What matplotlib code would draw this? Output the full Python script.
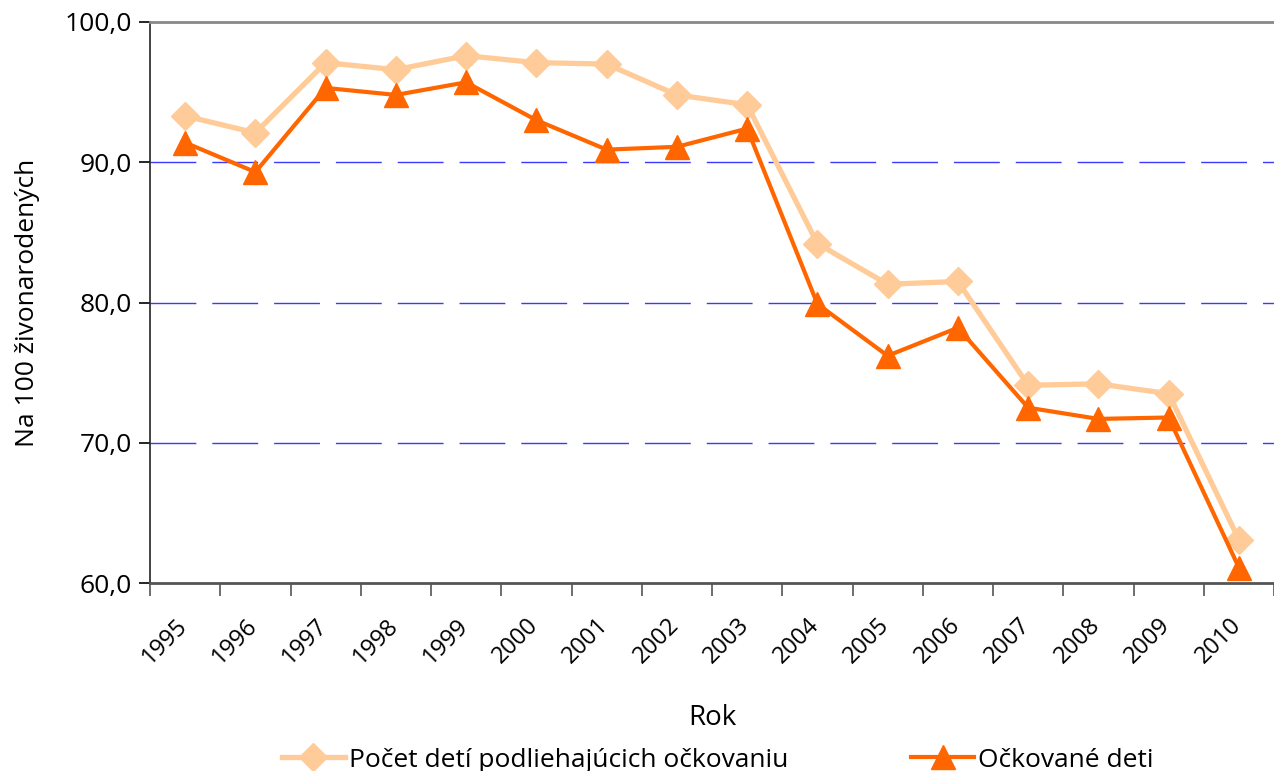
import matplotlib.pyplot as plt
import matplotlib.transforms as mtransforms
from matplotlib.ticker import FixedLocator, FuncFormatter

plt.rcParams['font.family'] = ['Open Sans', 'DejaVu Sans']

# data
roky = ['1995', '1996', '1997', '1998', '1999', '2000', '2001', '2002',
        '2003', '2004', '2005', '2006', '2007', '2008', '2009', '2010']
podliehajuci = [93.3, 92.1, 97.1, 96.6, 97.6, 97.1, 97.0, 94.8,
                94.1, 84.2, 81.3, 81.5, 74.1, 74.2, 73.5, 63.1]
ockovani = [91.4, 89.3, 95.3, 94.8, 95.7, 93.0, 90.9, 91.1,
            92.4, 79.9, 76.2, 78.2, 72.5, 71.7, 71.8, 61.1]

fig = plt.figure(figsize=(12.74, 7.71), dpi=100)
ax = fig.add_axes([150 / 1274, 1 - 583 / 771, 1 - 150 / 1274, (583 - 22) / 771])

x = list(range(len(roky)))
ax.plot(x, podliehajuci, color='#FFCC99', lw=3.8, marker='D', ms=14,
        label='Počet detí podliehajúcich očkovaniu', zorder=3)
ax.plot(x, ockovani, color='#FF6600', lw=3, marker='^', ms=17,
        label='Očkované deti', zorder=4)

# grid lines
for g in [70, 80, 90]:
    ax.axhline(g, color='#3a3aFF', lw=1, dashes=(33, 11.5), zorder=1)

ax.set_xlim(-0.5, len(roky) - 0.5)
ax.set_ylim(60, 100)
ax.set_yticks([60, 70, 80, 90, 100])
ax.yaxis.set_major_formatter(FuncFormatter(lambda v, p: f'{v:.1f}'.replace('.', ',')))
ax.tick_params(axis='y', length=8, width=1.2, labelsize=19, pad=5)

ax.set_xticks(x)
ax.set_xticklabels(roky, rotation=45, ha='right', rotation_mode='anchor', fontsize=17)
ax.tick_params(axis='x', which='major', length=0, pad=22)
posun = mtransforms.ScaledTranslation(-10 / 100, 0, fig.dpi_scale_trans)
for lbl in ax.get_xticklabels():
    lbl.set_transform(lbl.get_transform() + posun)
ax.xaxis.set_minor_locator(FixedLocator([i - 0.5 for i in range(len(roky) + 1)]))
ax.tick_params(axis='x', which='minor', length=9, width=1.2, color='#555555')

ax.spines['top'].set_color('#888888')
ax.spines['top'].set_linewidth(2)
ax.spines['bottom'].set_color('#555555')
ax.spines['bottom'].set_linewidth(2)
ax.spines['left'].set_color('#222222')
ax.spines['left'].set_linewidth(1.2)
ax.spines['right'].set_visible(False)

ax.set_ylabel('Na 100 živonarodených', fontsize=19, labelpad=18)
ax.set_xlabel('Rok', fontsize=20, labelpad=25)

fig.legend(loc='lower left', bbox_to_anchor=(258 / 1274, -0.033), ncol=2,
           frameon=False, fontsize=19, handlelength=2.4, handletextpad=0.15,
           columnspacing=4.65)

fig.savefig('out.png', dpi=100)
